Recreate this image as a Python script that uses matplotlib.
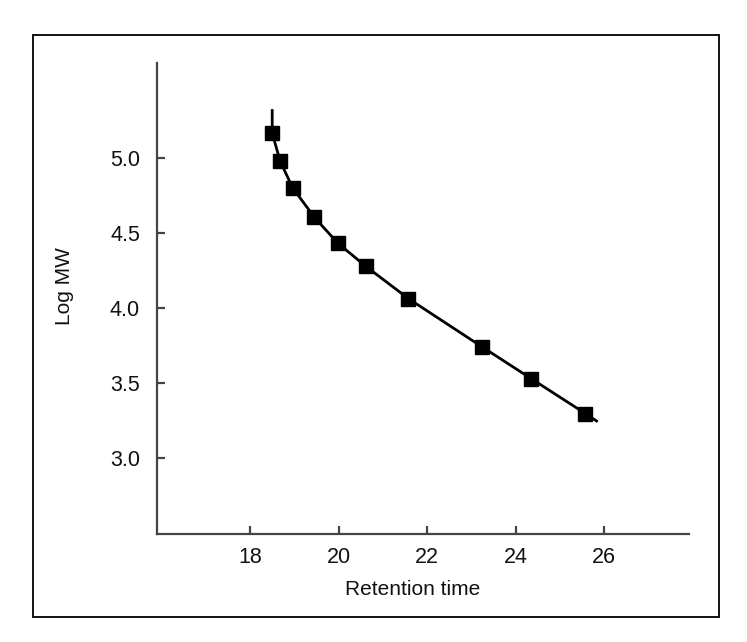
import matplotlib.pyplot as plt
from matplotlib.patches import Rectangle

plt.rcParams['font.family'] = ['Liberation Sans', 'DejaVu Sans']

# calibration standards
ret_time = [18.50, 18.68, 18.96, 19.45, 19.98, 20.61, 21.58, 23.25, 24.35, 25.58]
log_mw = [5.164, 4.977, 4.80, 4.604, 4.431, 4.277, 4.06, 3.737, 3.527, 3.293]

# fitted curve runs a little past the first and last standard
curve_x = [18.50] + ret_time + [25.83]
curve_y = [5.315] + log_mw + [3.244]

xticks = [18, 20, 22, 24, 26]
yticks = [3.0, 3.5, 4.0, 4.5, 5.0]

fig = plt.figure(figsize=(7.47, 6.42), dpi=100)
ax = fig.add_axes([0.2098, 0.1682, 0.7126, 0.7332])

ax.plot(curve_x, curve_y, color='black', lw=2.0, zorder=2)
ax.plot(ret_time, log_mw, 's', color='black', ms=10.5, zorder=3)

ax.set_xlim(15.89, 27.92)
ax.set_ylim(2.49, 5.63)
ax.set_xticks(xticks)
ax.set_xticklabels([str(t) for t in xticks])
ax.set_yticks(yticks)
ax.set_yticklabels(['%.1f' % t for t in yticks])

for s in ['top', 'right']:
    ax.spines[s].set_visible(False)
for s in ['left', 'bottom']:
    ax.spines[s].set_color('#444444')
    ax.spines[s].set_linewidth(1.6)

ax.tick_params(direction='in', length=6, width=1.6, color='#444444',
               labelsize=15.5, pad=9, labelcolor='#111111')
ax.tick_params(axis='y', pad=12)

ax.set_xlabel('Retention time', fontsize=15, color='#111111')
ax.set_ylabel('Log MW', fontsize=15, color='#111111')
ax.xaxis.set_label_coords(0.481, -0.098)
ax.yaxis.set_label_coords(-0.155, 0.527)

# frame around the whole figure
fig.patches.append(Rectangle((0.0442, 0.0389), 0.9183, 0.9066,
                             transform=fig.transFigure, fill=False,
                             edgecolor='black', lw=1.3))

fig.savefig('out.png', dpi=100)
